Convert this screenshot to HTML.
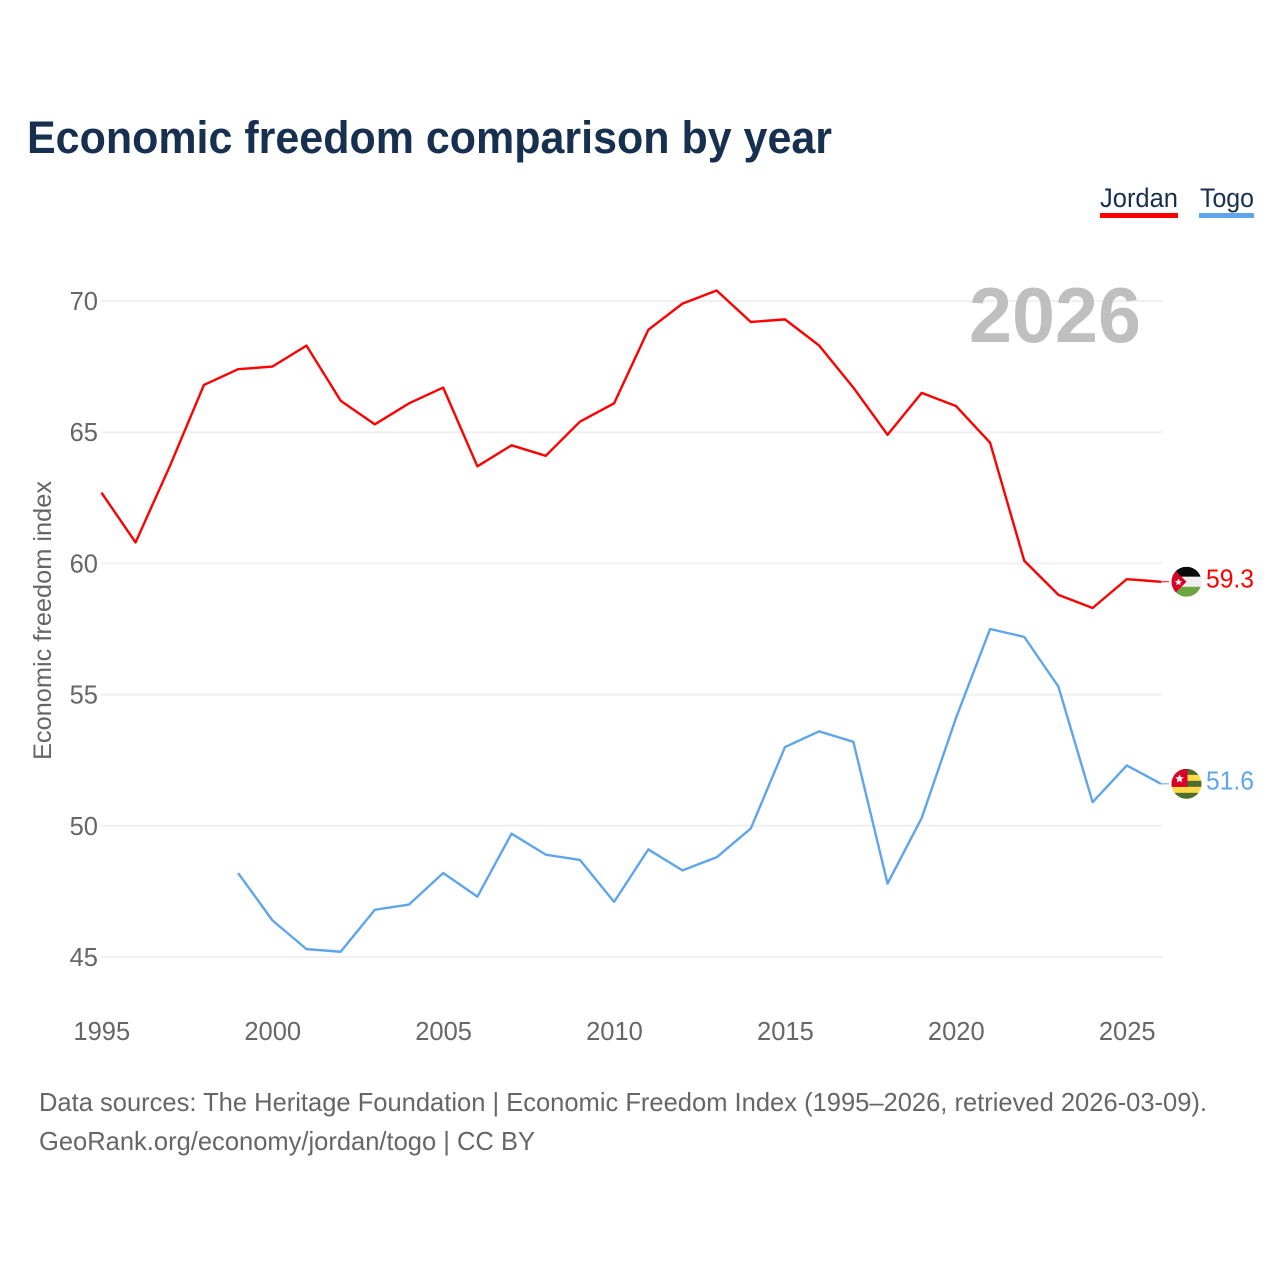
<!DOCTYPE html>
<html><head><meta charset="utf-8"><title>Economic freedom comparison by year</title>
<style>html,body{margin:0;padding:0;background:#fff}svg{display:block}text{font-family:"Liberation Sans",sans-serif}</style></head>
<body>
<svg id="chart" xmlns="http://www.w3.org/2000/svg" width="1280" height="1280" viewBox="0 0 1280 1280">
<rect width="1280" height="1280" fill="#fff"/>
<text x="27" y="153" font-size="45" font-weight="700" fill="#17304f" textLength="805" lengthAdjust="spacingAndGlyphs">Economic freedom comparison by year</text>
<g id="grid"></g>
<text x="969" y="342" font-size="78" font-weight="700" fill="#bfbfbf" textLength="172" lengthAdjust="spacingAndGlyphs">2026</text>
<g id="yticks"></g>
<g id="xticks"></g>
<text transform="translate(51,760) rotate(-90)" font-size="25" fill="#666" textLength="279" lengthAdjust="spacingAndGlyphs">Economic freedom index</text>
<g id="series"></g>
<g>
<g>
<text x="1100" y="207" font-size="27" fill="#17304f" textLength="78" lengthAdjust="spacingAndGlyphs">Jordan</text>
<rect x="1100" y="213" width="78" height="5" fill="#ff0000"/>
</g>
<g>
<text x="1200" y="207" font-size="27" fill="#17304f" textLength="54" lengthAdjust="spacingAndGlyphs">Togo</text>
<rect x="1199" y="213" width="55" height="5" fill="#5fa5ec"/>
</g>
</g>
<defs>
<clipPath id="clip-jordan"><circle cx="0" cy="0" r="15"/></clipPath>
<clipPath id="clip-togo"><circle cx="0" cy="0" r="15"/></clipPath>
</defs>
<g id="flag-jordan">
<g clip-path="url(#clip-jordan)">
<rect x="-15" y="-15" width="30" height="10" fill="#0a0a0a"/>
<rect x="-15" y="-5" width="30" height="10" fill="#eeeeee"/>
<rect x="-15" y="5" width="30" height="10" fill="#6da544"/>
<polygon points="-15,-15 -15,15 0,0" fill="#d80027"/>
<polygon points="-8,-3.4 -6.9,-1 -4.4,-0.7 -6.3,1 -5.8,3.4 -8,2.2 -10.2,3.4 -9.7,1 -11.6,-0.7 -9.1,-1" fill="#f0f0f0"/>
</g>
</g>
<g id="flag-togo">
<g clip-path="url(#clip-togo)">
<rect x="-15" y="-15" width="30" height="30" fill="#ffda44"/>
<rect x="-15" y="-15" width="30" height="6" fill="#496e2d"/>
<rect x="-15" y="-3" width="30" height="6" fill="#496e2d"/>
<rect x="-15" y="9" width="30" height="6" fill="#496e2d"/>
<rect x="-15" y="-15" width="16" height="18" fill="#d80027"/>
<polygon points="-7,-9.5 -5.7,-6.7 -2.7,-6.4 -5,-4.4 -4.3,-1.4 -7,-3 -9.7,-1.4 -9,-4.4 -11.3,-6.4 -8.3,-6.7" fill="#f0f0f0"/>
</g>
</g>
<g id="endlabels"></g>
<text x="39" y="1111" font-size="26" fill="#666" textLength="1168" lengthAdjust="spacingAndGlyphs">Data sources: The Heritage Foundation | Economic Freedom Index (1995–2026, retrieved 2026-03-09).</text>
<text x="39" y="1150" font-size="26" fill="#666" textLength="496" lengthAdjust="spacingAndGlyphs">GeoRank.org/economy/jordan/togo | CC BY</text>
</svg>
<script>
const jordanStartYear = 1995;
const togoStartYear = 1999;
const jordanValues = [62.7,60.8,63.7,66.8,67.4,67.5,68.3,66.2,65.3,66.1,66.7,63.7,64.5,64.1,65.4,66.1,68.9,69.9,70.4,69.2,69.3,68.3,66.7,64.9,66.5,66.0,64.6,60.1,58.8,58.3,59.4,59.3];
const togoValues = [48.2,46.4,45.3,45.2,46.8,47.0,48.2,47.3,49.7,48.9,48.7,47.1,49.1,48.3,48.8,49.9,53.0,53.6,53.2,47.8,50.3,54.1,57.5,57.2,55.3,50.9,52.3,51.6];
const yTickValues = [45,50,55,60,65,70];
const xTickYears = [1995,2000,2005,2010,2015,2020,2025];

const NS = 'http://www.w3.org/2000/svg';
const xScale = yr => 101.4 + (yr - 1995) * (1126.8 - 101.4) / 30;
const yScale = v => 957 - (v - 45) * (957 - 301) / 25;
const make = (tag, parent) => { const el = document.createElementNS(NS, tag); parent.appendChild(el); return el; };

const grid = document.getElementById('grid');
const yticks = document.getElementById('yticks');
yTickValues.forEach(v => {
  const line = make('line', grid);
  
  
  line.setAttribute('x1', xScale(1995) - 0.4);
  line.setAttribute('x2', xScale(2026) + 1);
  line.setAttribute('y1', yScale(v));
  line.setAttribute('y2', yScale(v));
  line.setAttribute('stroke', '#f0f0f0');
  line.setAttribute('stroke-width', '2');
  const t = make('text', yticks);
  
  
  t.setAttribute('x', 98);
  t.setAttribute('y', yScale(v) + 9);
  t.setAttribute('text-anchor', 'end');
  t.setAttribute('font-size', '25.5');
  t.setAttribute('fill', '#666');
  t.textContent = v;
});

const xticks = document.getElementById('xticks');
xTickYears.forEach(yr => {
  const t = make('text', xticks);
  
  
  t.setAttribute('x', xScale(yr) + 0.4);
  t.setAttribute('y', 1040);
  t.setAttribute('text-anchor', 'middle');
  t.setAttribute('font-size', '25.5');
  t.setAttribute('fill', '#666');
  t.textContent = yr;
});

const series = document.getElementById('series');
const endlabels = document.getElementById('endlabels');
function drawSeries(values, startYear, color, flagId, nameLine, nameConnector, nameLabel) {
  const pts = values.map((v, i) => xScale(startYear + i).toFixed(2) + ',' + yScale(v).toFixed(2));
  const last = values[values.length - 1];
  const lastYear = startYear + values.length - 1;
  const line = make('polyline', series);
  
  
  line.setAttribute('points', pts.join(' '));
  line.setAttribute('fill', 'none');
  line.setAttribute('stroke', color);
  line.setAttribute('stroke-width', '2.4');
  line.setAttribute('stroke-linejoin', 'round');
  const connector = make('line', series);
  
  
  connector.setAttribute('x1', xScale(lastYear));
  connector.setAttribute('x2', xScale(lastYear) + 8);
  connector.setAttribute('y1', yScale(last));
  connector.setAttribute('y2', yScale(last));
  connector.setAttribute('stroke', color);
  connector.setAttribute('stroke-width', '1');
  document.getElementById(flagId).setAttribute('transform', 'translate(1186.5,' + yScale(last).toFixed(2) + ')');
  const t = make('text', endlabels);
  
  
  t.setAttribute('x', 1206);
  t.setAttribute('y', yScale(last) + 5.8);
  t.setAttribute('font-size', '25.5');
  t.setAttribute('fill', color);
  t.setAttribute('textLength', '48');
  t.setAttribute('lengthAdjust', 'spacingAndGlyphs');
  t.textContent = last.toFixed(1);
}
drawSeries(jordanValues, jordanStartYear, '#ff0000', 'flag-jordan', 'jordan-line', 'jordan-connector', 'jordan-end-value');
drawSeries(togoValues, togoStartYear, '#5fa5ec', 'flag-togo', 'togo-line', 'togo-connector', 'togo-end-value');
</script>
</body></html>
